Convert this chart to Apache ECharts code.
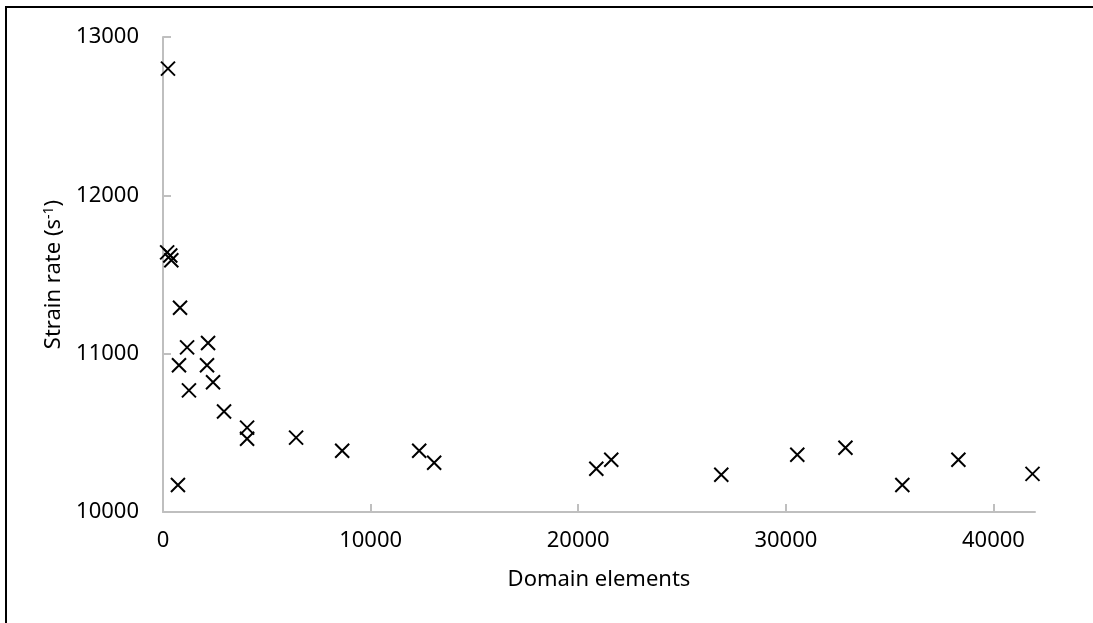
<!DOCTYPE html>
<html>
<head>
<meta charset="utf-8">
<title>Strain rate vs domain elements</title>
<script src="https://cdn.jsdelivr.net/npm/echarts@6/dist/echarts.min.js"></script>
<style>
  html, body { margin: 0; padding: 0; background: #fff; overflow: hidden; }
  #frame {
    position: absolute; left: 5px; top: 6px; width: 1200px; height: 800px;
    border: 2px solid #000; box-sizing: border-box;
  }
  #chart { position: absolute; left: 0; top: 0; width: 1093px; height: 623px; }
</style>
</head>
<body>
<div id="frame"></div>
<div id="chart"></div>
<script>
// domain elements (x) and strain rate (y)
const domainElements = [
  240, 200, 350, 400, 820, 1160, 2170, 770, 2120, 1250, 2410, 2940,
  4050, 4050, 6410, 8630, 12340, 13060, 720, 20870, 21590, 26890,
  30550, 32870, 35610, 38310, 41880
];
const strainRate = [
  12800, 11640, 11620, 11590, 11290, 11040, 11067, 10927, 10927, 10768, 10819, 10635,
  10533, 10463, 10470, 10387, 10387, 10311, 10171, 10273, 10330, 10235,
  10362, 10406, 10171, 10330, 10241
];
const xTicks = [0, 10000, 20000, 30000, 40000];
const yTicks = [10000, 11000, 12000, 13000];

const points = domainElements.map((x, i) => [x, strainRate[i]]);

const font = "'Noto Sans', 'Open Sans', sans-serif";
const axisGrey = "#BFBFBF";
const plain = (v) => String(v);

const chart = echarts.init(document.getElementById("chart"));
chart.setOption({
  animation: false,
  grid: { left: 163, top: 37, right: 58, bottom: 111 },
  xAxis: {
    type: "value",
    min: 0,
    max: 42000,
    name: "Domain elements",
    nameLocation: "middle",
    nameGap: 57,
    nameTextStyle: { fontFamily: font, fontSize: 22, color: "#000" },
    axisLine: { show: true, lineStyle: { color: axisGrey, width: 2 } },
    axisTick: { show: true, inside: true, length: 8, customValues: xTicks, lineStyle: { color: axisGrey, width: 2 } },
    axisLabel: { customValues: xTicks, formatter: plain, margin: 18, fontFamily: font, fontSize: 22, color: "#000" },
    splitLine: { show: false }
  },
  yAxis: {
    type: "value",
    min: 10000,
    max: 13000,
    interval: 1000,
    name: "{a|Strain rate (s}{s|-1}{a|)}",
    nameLocation: "middle",
    nameRotate: 90,
    nameGap: 93,
    nameTextStyle: {
      rich: {
        a: { fontFamily: font, fontSize: 22, color: "#000" },
        s: { fontFamily: font, fontSize: 14, color: "#000", verticalAlign: "top", padding: [0, 0, 10, 0] }
      }
    },
    axisLine: { show: true, lineStyle: { color: axisGrey, width: 2 } },
    axisTick: { show: true, inside: true, length: 8, lineStyle: { color: axisGrey, width: 2 } },
    axisLabel: { formatter: plain, margin: 24, fontFamily: font, fontSize: 22, color: "#000" },
    splitLine: { show: false }
  },
  series: [
    {
      type: "scatter",
      data: points,
      symbol: "path://M0,0L10,10M10,0L0,10",
      symbolSize: 14,
      itemStyle: { color: "none", borderColor: "#000", borderWidth: 2, opacity: 1 }
    }
  ]
});
</script>
</body>
</html>
